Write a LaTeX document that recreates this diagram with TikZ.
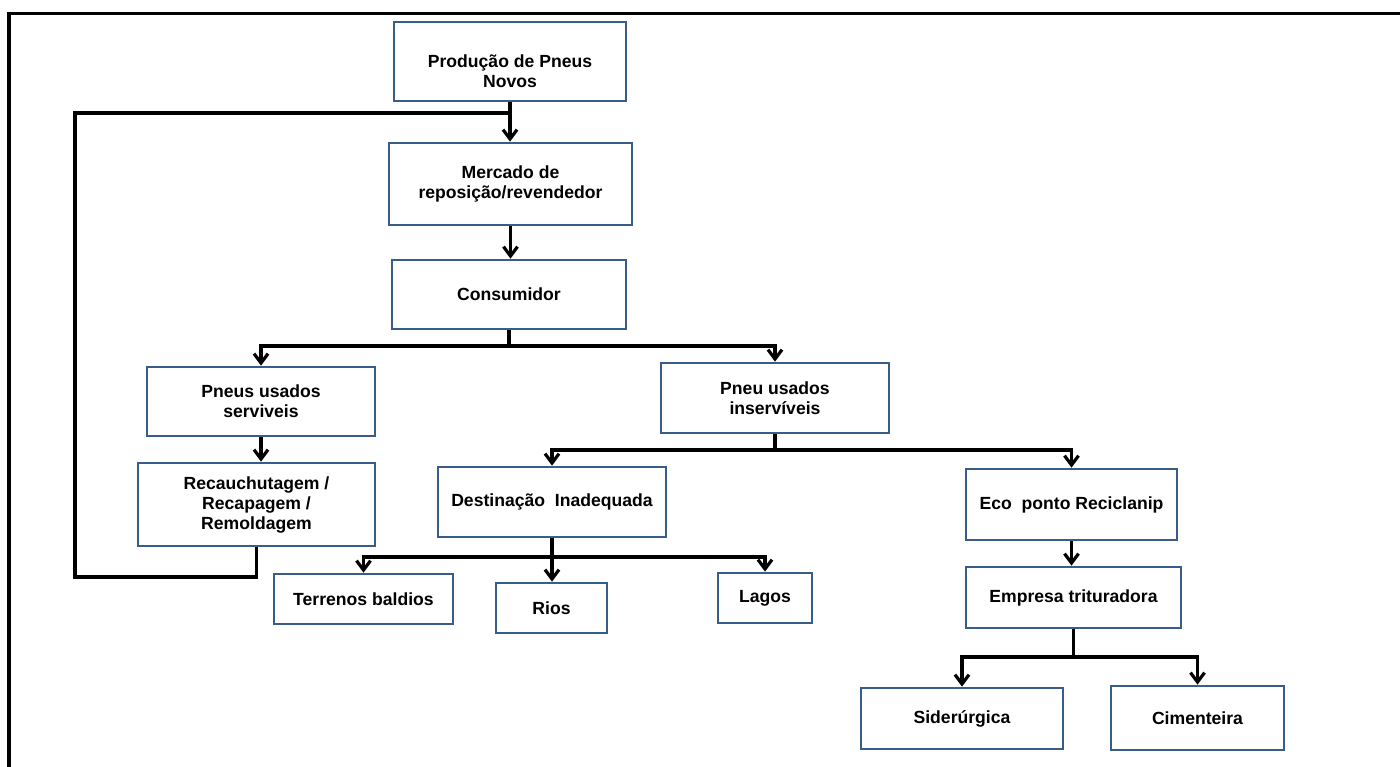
\documentclass[tikz,border=0pt]{standalone}
\usepackage{fontspec}
\setmainfont{Liberation Sans}
\usetikzlibrary{arrows.meta}
\definecolor{boxblue}{RGB}{56,93,138}
\begin{document}
\begin{tikzpicture}[x=0.75pt,y=-0.75pt,
  boxfont/.style={font=\bfseries\fontsize{13.2}{15}\selectfont},
  box/.style={draw=boxblue,line width=2pt,fill=white,align=center,boxfont,inner sep=2pt},
  conn/.style={line width=2.4pt,black,line join=miter},
  arr/.style={conn,-{Straight Barb[length=7pt,width=10.5pt]}}]
\useasboundingbox (0,0) rectangle (1400,767);
\draw[line width=2.4pt] (9,767) -- (9,13.5) -- (1400,13.5);

\node[box,minimum width=174pt,minimum height=59.25pt,
  label={[align=center,boxfont,yshift=-7.5pt]center:Produção de Pneus\\Novos}] (prod) at (510,61.5) {};
\node[box,minimum width=182.25pt,minimum height=61.5pt] (merc) at (510.5,184) {Mercado de\\reposição/revendedor};
\node[box,minimum width=175.5pt,minimum height=51.75pt] (cons) at (509,294.5) {Consumidor};
\node[box,minimum width=171pt,minimum height=51.75pt] (serv) at (261,401.5) {Pneus usados\\serviveis};
\node[box,minimum width=171pt,minimum height=52.5pt] (inser) at (775,398) {Pneu usados\\inservíveis};
\node[box,minimum width=177.75pt,minimum height=62.25pt] (recau) at (256.5,504.5) {Recauchutagem /\\Recapagem /\\Remoldagem};
\node[box,minimum width=171pt,minimum height=52.5pt] (dest) at (552,502) {Destinação\ \ Inadequada};
\node[box,minimum width=158.25pt,minimum height=53.25pt] (eco) at (1071.5,504.5) {Eco\ \ ponto Reciclanip};
\node[box,minimum width=134.25pt,minimum height=37.5pt] (terr) at (363.5,599) {Terrenos baldios};
\node[box,minimum width=83.25pt,minimum height=37.5pt] (rios) at (551.5,608) {Rios};
\node[box,minimum width=70.5pt,minimum height=37.5pt] (lagos) at (765,598) {Lagos};
\node[box,minimum width=161.25pt,minimum height=45.75pt] (emp) at (1073.5,597.5) {Empresa trituradora};
\node[box,minimum width=151.5pt,minimum height=45.75pt] (sider) at (962,718.5) {Siderúrgica};
\node[box,minimum width=129.75pt,minimum height=48pt] (cim) at (1197.5,718) {Cimenteira};

\coordinate (fbA) at (258,577);
\coordinate (fbB) at (75,113);
\coordinate (s1) at (cons.south |- 0,346);
\coordinate (s2) at (inser.south |- 0,450);
\coordinate (s3) at (dest.south |- 0,557);
\coordinate (s4) at (emp.south |- 0,657);

\draw[arr] (prod.south) -- (prod.south |- merc.north);
\draw[conn] (recau.south) -- (recau.south |- fbA) -| (fbB) -- (fbB -| prod.south);
\draw[arr] (merc.south) -- (merc.south |- cons.north);

\draw[conn] (cons.south) -- (s1);
\draw[arr] (s1) -| (serv.north);
\draw[arr] (s1) -| (inser.north);
\draw[arr] (serv.south) -- (serv.south |- recau.north);

\draw[conn] (inser.south) -- (s2);
\draw[arr] (s2) -| (dest.north);
\draw[arr] (s2) -| (eco.north);

\draw[conn] (dest.south) -- (s3);
\draw[arr] (s3) -| (terr.north);
\draw[arr] (s3) -- (s3 |- rios.north);
\draw[arr] (s3) -| (lagos.north);

\draw[arr] (eco.south) -- (eco.south |- emp.north);
\draw[conn] (emp.south) -- (s4);
\draw[arr] (s4) -| (sider.north);
\draw[arr] (s4) -| (cim.north);
\end{tikzpicture}
\end{document}
